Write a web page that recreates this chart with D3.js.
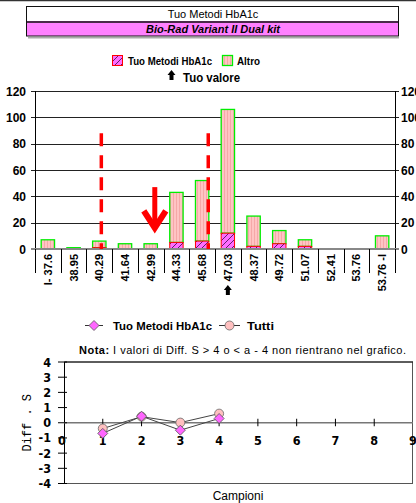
<!DOCTYPE html>
<html>
<head>
<meta charset="utf-8">
<script src="https://cdn.jsdelivr.net/npm/d3@7"></script>
<style>
  html, body { margin: 0; padding: 0; background: #fff; }
  svg { display: block; }
  text { font-family: "Liberation Sans", Arial, sans-serif; fill: #000; }
</style>
</head>
<body>
<script>
// Histogram bins (labels) and their numeric positions
const binLabels = ["I- 37.6", "38.95", "40.29", "41.64", "42.99", "44.33", "45.68",
                   "47.03", "48.37", "49.72", "51.07", "52.41", "53.76", "53.76 -I"];
const binValues = [37.6, 38.95, 40.29, 41.64, 42.99, 44.33, 45.68,
                   47.03, 48.37, 49.72, 51.07, 52.41, 53.76, 55.1];
// Counts per bin: own method (bottom) and all other labs (stacked on top)
const tuoCounts   = [0, 0, 1, 0, 0, 5, 6, 12, 2, 4, 2, 0, 0, 0];
const altroCounts = [7, 1, 5, 4, 4, 38, 46, 94, 23, 10, 5, 0, 0, 10];
const countTicks = [0, 20, 40, 60, 80, 100, 120];
// Acceptance limits, reported value and own value bin
const limitValues = [40.4, 46.0];
const reportedValue = 43.2;
const ownValueBin = "47.03";

// Difference plot (Diff. S per sample)
const samples = [1, 2, 3, 4];
const diffTuo   = [-0.7, 0.43, -0.49, 0.28];
const diffTutti = [-0.38, 0.4, 0.01, 0.6];
const diffTicks = [-4, -3, -2, -1, 0, 1, 2, 3, 4];
const sampleTicks = [0, 1, 2, 3, 4, 5, 6, 7, 8, 9];

const W = 416, H = 503;
const svg = d3.select("body").append("svg").attr("width", W).attr("height", H);

// ---------- patterns ----------
const defs = svg.append("defs");
const pTuo = defs.append("pattern").attr("id", "hatchTuo")
  .attr("patternUnits", "userSpaceOnUse").attr("width", 6).attr("height", 6);
pTuo.append("rect").attr("width", 6).attr("height", 6).attr("fill", "#ff6cff");
pTuo.append("path").attr("d", "M-1,1 L1,-1 M0,6 L6,0 M5,7 L7,5")
  .attr("stroke", "#3a1040").attr("stroke-width", 0.8);
const pAltro = defs.append("pattern").attr("id", "stripeAltro")
  .attr("patternUnits", "userSpaceOnUse").attr("width", 3).attr("height", 4);
pAltro.append("rect").attr("width", 3).attr("height", 4).attr("fill", "#ffc4c4");
pAltro.append("rect").attr("x", 2).attr("width", 1).attr("height", 4).attr("fill", "#f6a8a8");

// ---------- header ----------
svg.append("line").attr("x1", 0).attr("x2", W).attr("y1", 0.5).attr("y2", 0.5)
  .attr("stroke", "#333").attr("stroke-width", 1.5);
svg.append("rect").attr("x", 28).attr("y", 37).attr("width", 371).attr("height", 1.5).attr("fill", "#aaa");
svg.append("rect").attr("x", 26.5).attr("y", 6.5).attr("width", 372).attr("height", 15)
  .attr("fill", "#fff").attr("stroke", "#111");
svg.append("rect").attr("x", 26.5).attr("y", 21.5).attr("width", 372).attr("height", 14.5)
  .attr("fill", "#ff80ff").attr("stroke", "#111");
svg.append("line").attr("x1", 27).attr("x2", 398).attr("y1", 22).attr("y2", 22)
  .attr("stroke", "#4a2a4a").attr("stroke-width", 2);
svg.append("text").attr("x", 213).attr("y", 18).attr("text-anchor", "middle")
  .attr("font-size", 11).text("Tuo Metodi HbA1c");
svg.append("text").attr("x", 213).attr("y", 32.5).attr("text-anchor", "middle")
  .attr("font-size", 11).attr("font-weight", "bold").attr("font-style", "italic")
  .text("Bio-Rad Variant II Dual kit");

// ---------- histogram legend ----------
svg.append("rect").attr("x", 112.5).attr("y", 55.5).attr("width", 10).attr("height", 10)
  .attr("fill", "url(#hatchTuo)").attr("stroke", "#ff0000");
svg.append("text").attr("x", 128).attr("y", 65).attr("font-size", 10.5).attr("font-weight", "bold")
  .attr("textLength", 84).attr("lengthAdjust", "spacingAndGlyphs").text("Tuo Metodi HbA1c");
svg.append("rect").attr("x", 222.5).attr("y", 55.5).attr("width", 10).attr("height", 10)
  .attr("fill", "url(#stripeAltro)").attr("stroke", "#00ee00").attr("stroke-width", 1.3);
svg.append("text").attr("x", 237).attr("y", 65).attr("font-size", 10.5).attr("font-weight", "bold")
  .attr("textLength", 23).attr("lengthAdjust", "spacingAndGlyphs").text("Altro");

function blackArrow(g, cx, top) {
  g.append("path")
    .attr("d", `M${cx},${top} L${cx + 4},${top + 5} L${cx + 2},${top + 5} L${cx + 2},${top + 10}
               L${cx - 2},${top + 10} L${cx - 2},${top + 5} L${cx - 4},${top + 5} Z`)
    .attr("fill", "#000");
}
blackArrow(svg, 171.5, 70);
svg.append("text").attr("x", 183).attr("y", 82).attr("font-size", 12.5).attr("font-weight", "bold")
  .attr("textLength", 57).attr("lengthAdjust", "spacingAndGlyphs").text("Tuo valore");

// ---------- histogram ----------
const x = d3.scaleBand().domain(binLabels).range([35, 395]).padding(0);
const y = d3.scaleLinear().domain([0, 120]).range([249, 91]);
const xv = d3.scaleLinear().domain([binValues[0], binValues[12]])
  .range([x(binLabels[0]) + x.bandwidth() / 2, x(binLabels[12]) + x.bandwidth() / 2]);

const gH = svg.append("g");
// gridlines
gH.selectAll(".grid").data(countTicks.filter(d => d > 0)).join("line")
  .attr("x1", 31).attr("x2", 399).attr("y1", d => Math.round(y(d)) + 0.5).attr("y2", d => Math.round(y(d)) + 0.5)
  .attr("stroke", "#222").attr("stroke-width", 1);
// left / right axes
gH.append("line").attr("x1", 35.5).attr("x2", 35.5).attr("y1", y(120)).attr("y2", y(0)).attr("stroke", "#000");
gH.append("line").attr("x1", 395.5).attr("x2", 395.5).attr("y1", y(120)).attr("y2", y(0)).attr("stroke", "#000");
gH.selectAll(".yl").data(countTicks).join("text")
  .attr("x", 26).attr("y", d => y(d) + 4.5).attr("text-anchor", "end")
  .attr("font-size", 12).attr("font-weight", "bold").text(d => d);
gH.selectAll(".yr").data(countTicks).join("text")
  .attr("x", 401).attr("y", d => y(d) + 4.5).attr("text-anchor", "start")
  .attr("font-size", 12).attr("font-weight", "bold").text(d => d);

// stacked bars
const bw = x.bandwidth() * 0.52;
const bars = gH.selectAll(".bar").data(binLabels.map((l, i) => ({ l, t: tuoCounts[i], a: altroCounts[i] })))
  .join("g");
bars.filter(d => d.a > 0).append("rect")
  .attr("x", d => x(d.l) + (x.bandwidth() - bw) / 2).attr("width", bw)
  .attr("y", d => y(d.t + d.a)).attr("height", d => y(d.t) - y(d.t + d.a))
  .attr("fill", "url(#stripeAltro)").attr("stroke", "#00ee00").attr("stroke-width", 1.3);
bars.filter(d => d.t > 0).append("rect")
  .attr("x", d => x(d.l) + (x.bandwidth() - bw) / 2).attr("width", bw)
  .attr("y", d => y(d.t)).attr("height", d => y(0) - y(d.t))
  .attr("fill", "url(#hatchTuo)").attr("stroke", "#ff0000").attr("stroke-width", 1);

// zero baseline
gH.append("line").attr("x1", 31).attr("x2", 399).attr("y1", y(0)).attr("y2", y(0))
  .attr("stroke", "#888").attr("stroke-width", 2);

// bin separators and labels
const seps = binLabels.map(l => x(l)).concat([395]);
gH.selectAll(".sep").data(seps).join("line")
  .attr("x1", d => Math.round(d) + 0.5).attr("x2", d => Math.round(d) + 0.5)
  .attr("y1", y(0)).attr("y2", 273).attr("stroke", "#000");
gH.selectAll(".xl").data(binLabels).join("text")
  .attr("transform", d => `translate(${x(d) + x.bandwidth() / 2 + 4},254) rotate(-90)`)
  .attr("text-anchor", "end").attr("font-size", 11).attr("font-weight", "bold").text(d => d);
blackArrow(gH, x(ownValueBin) + x.bandwidth() / 2, 285);

// acceptance limits
gH.selectAll(".lim").data(limitValues).join("line")
  .attr("x1", d => xv(d)).attr("x2", d => xv(d)).attr("y1", y(88)).attr("y2", y(0))
  .attr("stroke", "#ff0000").attr("stroke-width", 3.5).attr("stroke-dasharray", "13,9");

// reported value arrow
const ax = xv(reportedValue), aTop = y(47), aTip = y(13);
gH.append("line").attr("x1", ax).attr("x2", ax).attr("y1", aTop).attr("y2", aTip - 4)
  .attr("stroke", "#ff0000").attr("stroke-width", 5);
gH.append("path").attr("d", `M${ax - 11},${aTip - 21} L${ax},${aTip - 4} L${ax + 11},${aTip - 21}`)
  .attr("fill", "none").attr("stroke", "#ff0000").attr("stroke-width", 6).attr("stroke-linejoin", "miter");

// ---------- difference plot legend ----------
function diamond(g, cx, cy, r) {
  g.append("path").attr("d", `M${cx},${cy - r} L${cx + r},${cy} L${cx},${cy + r} L${cx - r},${cy} Z`)
    .attr("fill", "#ff66ff").attr("stroke", "#555").attr("stroke-width", 0.8);
}
function dot(g, cx, cy, r) {
  g.append("circle").attr("cx", cx).attr("cy", cy).attr("r", r)
    .attr("fill", "#ffc0c0").attr("stroke", "#666").attr("stroke-width", 0.8);
}
svg.append("line").attr("x1", 85).attr("x2", 103).attr("y1", 325.5).attr("y2", 325.5).attr("stroke", "#333");
diamond(svg, 94, 325.5, 5);
svg.append("text").attr("x", 113).attr("y", 329.5).attr("font-size", 11).attr("font-weight", "bold")
  .attr("textLength", 99).attr("lengthAdjust", "spacingAndGlyphs").text("Tuo Metodi HbA1c");
svg.append("line").attr("x1", 219).attr("x2", 240).attr("y1", 325.5).attr("y2", 325.5).attr("stroke", "#333");
dot(svg, 229.5, 325.5, 4.5);
svg.append("text").attr("x", 247).attr("y", 329.5).attr("font-size", 11).attr("font-weight", "bold")
  .attr("textLength", 27).attr("lengthAdjust", "spacingAndGlyphs").text("Tutti");

const nota = svg.append("text").attr("x", 79).attr("y", 354).attr("font-size", 11)
  .attr("textLength", 327).attr("lengthAdjust", "spacing");
nota.append("tspan").attr("font-weight", "bold").text("Nota:");
nota.append("tspan").text("  I valori di Diff. S > 4 o < a - 4 non rientrano nel grafico.");

// ---------- difference plot ----------
const sx = d3.scaleLinear().domain([0, 9]).range([64, 413]);
const sy = d3.scaleLinear().domain([-4, 4]).range([483.5, 362]);
const gD = svg.append("g");
gD.append("rect").attr("x", 64.5).attr("y", 362).attr("width", 348).attr("height", 121.5)
  .attr("fill", "none").attr("stroke", "#555");
gD.append("line").attr("x1", 64.5).attr("x2", 413).attr("y1", 362).attr("y2", 362).attr("stroke", "#111");
gD.append("line").attr("x1", 64.5).attr("x2", 64.5).attr("y1", 362).attr("y2", 483.5).attr("stroke", "#000");
gD.append("line").attr("x1", 64).attr("x2", 413).attr("y1", sy(0)).attr("y2", sy(0))
  .attr("stroke", "#777").attr("stroke-width", 1.5);
gD.selectAll(".yt").data(diffTicks).join("line")
  .attr("x1", 58).attr("x2", 67).attr("y1", d => sy(d)).attr("y2", d => sy(d)).attr("stroke", "#000");
gD.selectAll(".xt").data(sampleTicks.filter(d => d > 0 && d < 9)).join("line")
  .attr("x1", d => sx(d)).attr("x2", d => sx(d)).attr("y1", sy(0) - 4).attr("y2", sy(0) + 3.5).attr("stroke", "#000");

const narrow = '"Liberation Sans Narrow", "DejaVu Sans Condensed", "Arial Narrow", sans-serif';
gD.selectAll(".ylab").data(diffTicks).join("text")
  .attr("x", 51).attr("y", d => sy(d) + 4.5).attr("text-anchor", "end")
  .attr("font-size", 12.5).attr("font-weight", "bold").style("font-family", narrow).text(d => d);
gD.selectAll(".xlab").data(sampleTicks).join("text")
  .attr("x", d => sx(d) + (d === 0 ? -2 : 0)).attr("y", 445).attr("text-anchor", "middle")
  .attr("font-size", 12.5).attr("font-weight", "bold").style("font-family", narrow).text(d => d);

const line = d3.line().x(d => sx(d[0])).y(d => sy(d[1]));
const tuoPts = samples.map((s, i) => [s, diffTuo[i]]);
const tuttiPts = samples.map((s, i) => [s, diffTutti[i]]);
gD.append("path").attr("d", line(tuttiPts)).attr("fill", "none").attr("stroke", "#444").attr("stroke-width", 1);
gD.append("path").attr("d", line(tuoPts)).attr("fill", "none").attr("stroke", "#444").attr("stroke-width", 1);
tuttiPts.forEach(p => dot(gD, sx(p[0]), sy(p[1]), 4.5));
tuoPts.forEach(p => diamond(gD, sx(p[0]), sy(p[1]), 5));

svg.append("text").attr("transform", `translate(31,${sy(0)}) rotate(-90)`)
  .attr("text-anchor", "middle").attr("font-size", 12)
  .style("font-family", '"Liberation Mono", "DejaVu Sans Mono", monospace').text("Diff . S");
svg.append("text").attr("x", 238).attr("y", 500).attr("text-anchor", "middle").attr("font-size", 12)
  .text("Campioni");
</script>
</body>
</html>
